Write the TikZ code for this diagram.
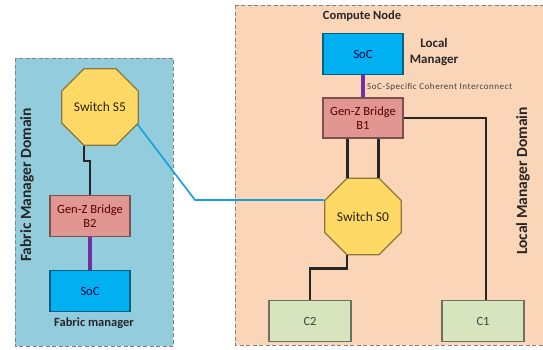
\documentclass[tikz,border=0pt]{standalone}
\usepackage{fontspec}
\setmainfont{Carlito}
\usetikzlibrary{shapes.geometric}
\definecolor{fmbg}{RGB}{147,205,221}
\definecolor{lmbg}{RGB}{251,213,183}
\definecolor{socfill}{RGB}{0,176,240}
\definecolor{brfill}{RGB}{226,150,146}
\definecolor{swfill}{RGB}{255,217,102}
\definecolor{cfill}{RGB}{215,228,189}
\definecolor{purp}{RGB}{112,48,160}
\definecolor{bluel}{RGB}{20,160,220}
\definecolor{dashc}{RGB}{130,130,130}
\tikzset{
  x=1pt,y=-1pt,
  dombox/.style={draw=dashc,dash pattern=on 4pt off 2.5pt,line width=1pt},
  boxbase/.style={rectangle,minimum width=80pt,minimum height=41pt,line width=1.2pt,inner sep=1pt,align=center,font=\fontsize{12.5}{13.5}\selectfont},
  socbox/.style={boxbase,fill=socfill,draw=socfill!55!black,text=blue!30!black},
  brbox/.style={boxbase,fill=brfill,draw=brfill!55!black,text=red!35!black},
  cbox/.style={boxbase,minimum width=82pt,fill=cfill,draw=cfill!50!black,text=black!75},
  swbox/.style={regular polygon,regular polygon sides=8,minimum size=84pt,inner sep=0pt,fill=swfill,draw=swfill!55!black,line width=1.2pt,text=black!60!swfill!40!black,font=\fontsize{13.5}{14}\selectfont},
  wire/.style={line width=2.3pt,black!85},
  pwire/.style={line width=3.5pt,purp},
  bwire/.style={line width=1.6pt,bluel},
  lbl/.style={font=\bfseries\fontsize{12.5}{14}\selectfont,text=black!85,align=center,inner sep=0pt},
  domlbl/.style={lbl,rotate=90,font=\bfseries\fontsize{15.5}{17}\selectfont},
}
\begin{document}
\begin{tikzpicture}
\useasboundingbox (0,0) rectangle (543,349);
\fill[white] (0,0) rectangle (543,349);
% domains
\draw[dombox,fill=fmbg] (15,58) rectangle (173,346);
\draw[dombox,fill=lmbg] (235,5) rectangle (550,345);
% labels
\node[domlbl] (fmd) at (27,185) {Fabric Manager Domain};
\node[domlbl] (lmd) at (523,181) {Local Manager Domain};
\node[lbl] (cn) at (362,16) {Compute Node};
\node[lbl,font=\bfseries\fontsize{13}{16}\selectfont] (lm) at (434,52) {Local\\Manager};
\node[lbl] (fm) at (94,323) {Fabric manager};
% nodes
\node[swbox,minimum size=83pt] (S5) at (100,107) {Switch S5};
\node[brbox] (B2) at (90,216) {Gen-Z Bridge\\B2};
\node[socbox] (SoC2) at (90,291) {SoC};
\node[socbox] (SoC1) at (363,54) {SoC};
\node[brbox,minimum height=40pt] (B1) at (363,118) {Gen-Z Bridge\\B1};
\node[swbox,minimum size=83pt] (S0) at (363,216.5) {Switch S0};
\node[cbox] (C2) at (310,321) {C2};
\node[cbox] (C1) at (483,321) {C1};
\node[anchor=west,inner sep=0pt,font=\fontsize{9}{9}\selectfont\addfontfeature{LetterSpace=6},text=black!75] (sci) at (367,87) {SoC-Specific Coherent Interconnect};
% connectors
\coordinate (bend) at (195,200);
\draw[bwire] (S5.-25) -- (bend) -- (bend -| S0.west);
\draw[wire] ([xshift=-16pt]S5.south) -- ++(0,15) -| (B2.north);
\draw[pwire] (B2.south) -- (SoC2.north);
\draw[pwire] (SoC1.south) -- (B1.north);
\draw[wire] ([xshift=-15.5pt]B1.south) -- ([xshift=-15.5pt]B1.south |- S0.north);
\draw[wire] ([xshift=15.5pt]B1.south) -- ([xshift=15.5pt]B1.south |- S0.north);
\draw[wire] (B1.east) -| ([xshift=3pt]C1.north);
\draw[wire] ([xshift=-16pt]S0.south) -- ++(0,13) -| (C2.north);
\end{tikzpicture}
\end{document}
